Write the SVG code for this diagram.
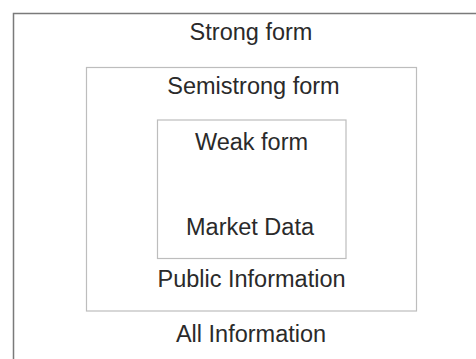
<svg xmlns="http://www.w3.org/2000/svg" width="476" height="359" viewBox="0 0 476 359">
<style>
.t{font-family:"Liberation Sans",Arial,sans-serif;font-size:23.5px;fill:#2a2a2a;text-anchor:middle}
.b{fill:none;stroke:#bdbdbd;stroke-width:1.2}
</style>
<rect width="476" height="359" fill="#fff"/>
<g id="strong">
<path d="M13.5 359V13.5H476" fill="none" stroke="#7a7a7a" stroke-width="1.5"/>
<text class="t" x="251" y="40">Strong form</text>
<text class="t" x="251" y="341.5">All Information</text>
</g>
<g id="semistrong">
<rect class="b" x="86.5" y="67.5" width="330" height="243.5"/>
<text class="t" x="253.5" y="93.5">Semistrong form</text>
<text class="t" x="251.5" y="286.5">Public Information</text>
</g>
<g id="weak">
<rect class="b" x="157.5" y="120" width="188.5" height="138.5"/>
<text class="t" x="251.5" y="150">Weak form</text>
<text class="t" x="250" y="235">Market Data</text>
</g>
<g id="connectors"/>
</svg>
